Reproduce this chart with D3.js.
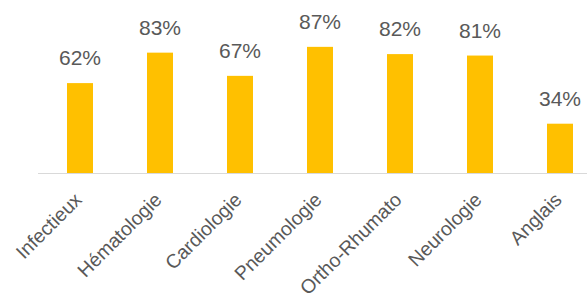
<!DOCTYPE html>
<html>
<head>
<meta charset="utf-8">
<script src="https://cdn.jsdelivr.net/npm/d3@7"></script>
<style>
  body { margin: 0; background: #fff; }
  svg { display: block; font-family: "Liberation Sans", Arial, sans-serif; }
</style>
</head>
<body>
<div id="chart"></div>
<script>
const categories = ["Infectieux", "Hématologie", "Cardiologie", "Pneumologie", "Ortho-Rhumato", "Neurologie", "Anglais"];
const values = [62, 83, 67, 87, 82, 81, 34];

let width = 587,
  height = 301;

let svg = d3.select("#chart")
  .append("svg")
  .attr("width", width)
  .attr("height", height);

let x = d3.scaleBand()
  .domain(categories)
  .range([40, 600])
  .paddingInner(0.675)
  .paddingOuter(0.3375);

let y = d3.scaleLinear()
  .domain([0, 100])
  .range([173, 28]);

let data = categories.map((c, i) => ({ name: c, value: values[i] }));

// baseline
svg.append("line")
  .attr("x1", 38)
  .attr("x2", width)
  .attr("y1", y(0) + 0.5)
  .attr("y2", y(0) + 0.5)
  .attr("stroke", "#d9d9d9")
  .attr("stroke-width", 1.2);

svg.selectAll("rect.bar")
  .data(data)
  .join("rect")
  .attr("class", "bar")
  .attr("x", d => x(d.name))
  .attr("y", d => y(d.value))
  .attr("width", x.bandwidth())
  .attr("height", d => y(0) - y(d.value))
  .attr("fill", "#ffc000");

svg.selectAll("text.val")
  .data(data)
  .join("text")
  .attr("class", "val")
  .attr("x", d => x(d.name) + x.bandwidth() / 2)
  .attr("y", d => y(d.value) - 18)
  .attr("text-anchor", "middle")
  .attr("font-size", 21)
  .attr("fill", "#595959")
  .text(d => d.value + "%");

svg.selectAll("text.cat")
  .data(data)
  .join("text")
  .attr("class", "cat")
  .attr("transform", d => `translate(${x(d.name) + x.bandwidth() / 2 + 3},201) rotate(-45)`)
  .attr("text-anchor", "end")
  .attr("font-size", 19.5)
  .attr("fill", "#595959")
  .text(d => d.name);
</script>
</body>
</html>
